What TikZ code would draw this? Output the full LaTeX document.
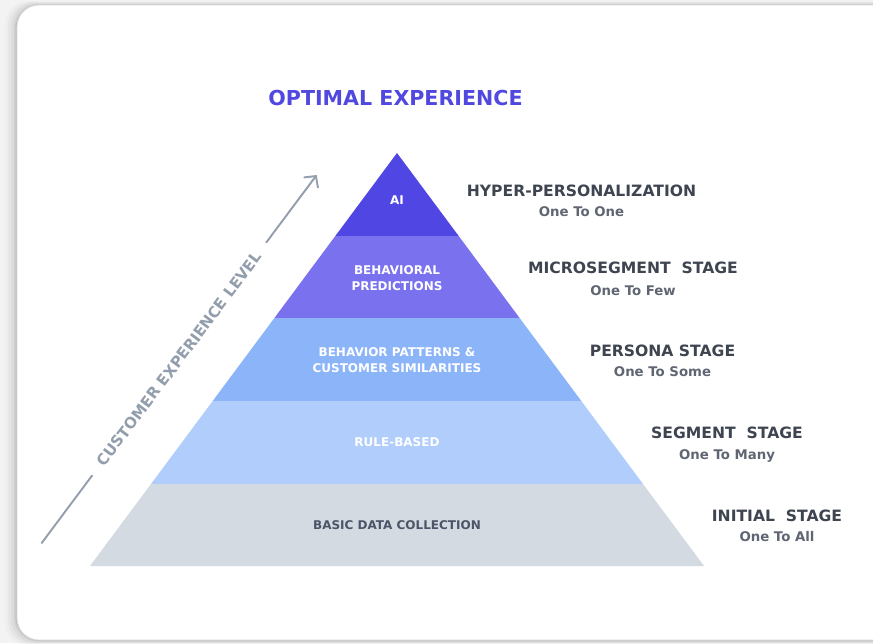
\documentclass[tikz,border=0pt]{standalone}
\usepackage{fontspec}
\setmainfont{DejaVu Sans}
\usetikzlibrary{arrows.meta,calc}

\definecolor{pageback}{HTML}{F3F3F3}
\definecolor{cardedge}{HTML}{DCDCDC}
\definecolor{titlecol}{HTML}{5148E0}
\definecolor{layerA}{HTML}{5046E4}
\definecolor{layerB}{HTML}{7A71EF}
\definecolor{layerC}{HTML}{8BB4F9}
\definecolor{layerD}{HTML}{B1CDFB}
\definecolor{layerE}{HTML}{D4DAE2}
\definecolor{basetext}{HTML}{4B5567}
\definecolor{stagecol}{HTML}{3E4550}
\definecolor{subcol}{HTML}{5F6672}
\definecolor{axiscol}{HTML}{939EAD}

\begin{document}
\begin{tikzpicture}[x=1pt,y=-1pt,
  layertext/.style={font=\bfseries\fontsize{12}{15.6}\selectfont, text=white,
    align=center, inner sep=0pt},
  stagetitle/.style={font=\bfseries\fontsize{15.6}{18}\selectfont, text=stagecol,
    anchor=base, inner sep=0pt},
  stagesub/.style={font=\bfseries\fontsize{13.3}{16}\selectfont, text=subcol,
    anchor=base, inner sep=0pt},
  axislabel/.style={font=\bfseries\fontsize{15.2}{18}\selectfont, text=axiscol,
    inner xsep=14pt, inner ysep=2pt, outer sep=0pt},
  axisline/.style={draw=axiscol, line width=1.9pt, line cap=round},
]
\useasboundingbox (0,0) rectangle (873,643);
\clip (0,0) rectangle (873,643);

% page background and soft shadow of the card
\fill[pageback] (0,0) rectangle (873,643);
\foreach \s/\o in {12/0.02,9/0.03,6/0.04,3/0.06,1.5/0.08}{
  \fill[black, opacity=\o, rounded corners=24pt]
    (17-\s,5-\s/3) rectangle (900,640+\s/2);
}
% white card
\draw[fill=white, draw=cardedge, line width=0.8pt, rounded corners=22pt]
  (17,5) rectangle (900,640);

% heading
\node[font=\bfseries\fontsize{20.6}{24}\selectfont, text=titlecol, anchor=base,
  inner sep=0pt] (heading) at (395.5,105) {OPTIMAL EXPERIENCE};

% pyramid layers, top to bottom
\fill[layerA] (397,153) -- (458.7,236) -- (335.3,236) -- cycle;
\fill[layerB] (335.3,236) -- (458.7,236) -- (519.6,318) -- (274.4,318) -- cycle;
\fill[layerC] (274.4,318) -- (519.6,318) -- (581.3,401) -- (212.7,401) -- cycle;
\fill[layerD] (212.7,401) -- (581.3,401) -- (643,484) -- (151,484) -- cycle;
\fill[layerE] (151,484) -- (643,484) -- (704,566) -- (90,566) -- cycle;

% layer captions
\node[layertext] (ai) at (397,200) {AI};
\node[layertext] (predict) at (397,278) {BEHAVIORAL\\PREDICTIONS};
\node[layertext] (patterns) at (397,360) {BEHAVIOR PATTERNS \&\\CUSTOMER SIMILARITIES};
\node[layertext] (rules) at (397,442) {RULE-BASED};
\node[layertext, text=basetext] (basic) at (397,525) {BASIC DATA COLLECTION};

% stage names on the right
\node[stagetitle] (hyper) at (581.5,196.7) {HYPER-PERSONALIZATION};
\node[stagesub] (hypersub) at (581.5,216.7) {One To One};
\node[stagetitle] (micro) at (633,273.3) {MICROSEGMENT\ \ STAGE};
\node[stagesub] (microsub) at (633,295) {One To Few};
\node[stagetitle] (persona) at (662.5,356.7) {PERSONA STAGE};
\node[stagesub] (personasub) at (662.5,376.7) {One To Some};
\node[stagetitle] (segment) at (727,438.3) {SEGMENT\ \ STAGE};
\node[stagesub] (segmentsub) at (727,459.5) {One To Many};
\node[stagetitle] (initial) at (777,521) {INITIAL\ \ STAGE};
\node[stagesub] (initialsub) at (777,541.7) {One To All};

% experience axis with its label set into the line
\coordinate (axstart) at (41.7,543);
\coordinate (axend) at (316.7,175);
\node[axislabel, rotate=53.2] (axlabel) at ($(axstart)!0.5!(axend)$)
  {CUSTOMER EXPERIENCE LEVEL};
\draw[axisline] (axstart) -- (axlabel);
\draw[axisline, -{Straight Barb[length=8pt,width=17pt,line cap=round]}]
  (axlabel) -- (axend);
\end{tikzpicture}
\end{document}
